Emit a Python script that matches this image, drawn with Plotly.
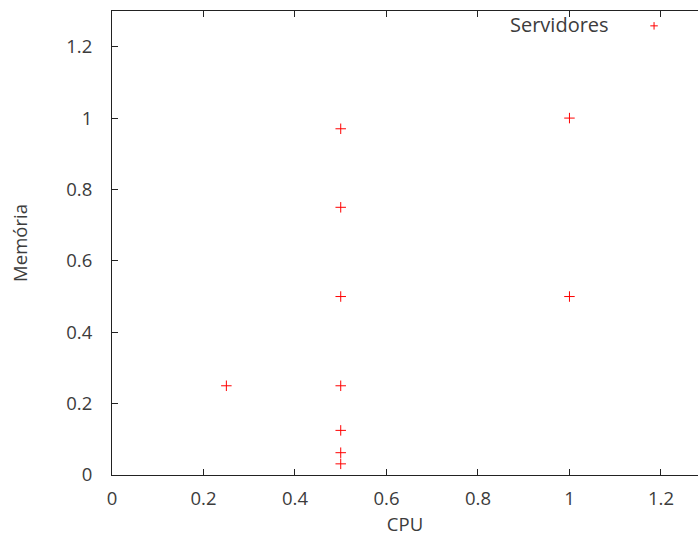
import plotly.graph_objects as go

cpu = [0.25, 0.5, 0.5, 0.5, 0.5, 0.5, 0.5, 0.5, 1.0, 1.0]
memoria = [0.25, 0.97, 0.75, 0.5, 0.25, 0.125, 0.0625, 0.03125, 1.0, 0.5]
series_name = "Servidores"
tick_vals = [0, 0.2, 0.4, 0.6, 0.8, 1, 1.2]
tick_text = ["0", "0.2", "0.4", "0.6", "0.8", "1", "1.2"]

font_family = "Open Sans, sans-serif"
text_color = "#3c3c3c"

fig = go.Figure()
fig.add_trace(go.Scatter(
    x=cpu, y=memoria, mode="markers", name=series_name, showlegend=False,
    marker=dict(symbol="cross-thin", size=7.5, color="rgba(0,0,0,0)",
                line=dict(color="#ff0000", width=1)),
))

axis_common = dict(
    showgrid=False, zeroline=False, showline=True, linecolor="#222222", linewidth=1,
    ticks="inside", ticklen=6, tickcolor="#222222", tickwidth=1,
    tickvals=tick_vals, ticktext=tick_text,
    tickfont=dict(family=font_family, size=18.5, color=text_color),
)

fig.update_xaxes(range=[0, 1.281], mirror="ticks", ticklabelstandoff=7,
                 title=dict(text="CPU", font=dict(family=font_family, size=18.5, color=text_color), standoff=11),
                 **axis_common)
fig.update_yaxes(range=[0, 1.3], mirror=False, ticklabelstandoff=15,
                 title=dict(text="Memória", font=dict(family=font_family, size=18.5, color=text_color), standoff=33),
                 **axis_common)

# legend drawn in gnuplot style: label then sample symbol
fig.add_annotation(xref="paper", yref="paper", x=0.851, y=0.970, xanchor="right", yanchor="middle",
                   text=series_name, showarrow=False,
                   font=dict(family=font_family, size=20, color=text_color))
lx, ly = 0.925, 0.968
fig.add_shape(type="line", xref="paper", yref="paper", xsizemode="pixel", ysizemode="pixel",
              xanchor=lx, yanchor=ly, x0=-3.75, x1=3.75, y0=0, y1=0,
              line=dict(color="#ff0000", width=1))
fig.add_shape(type="line", xref="paper", yref="paper", xsizemode="pixel", ysizemode="pixel",
              xanchor=lx, yanchor=ly, x0=0, x1=0, y0=-3.75, y1=3.75,
              line=dict(color="#ff0000", width=1))

fig.update_layout(
    width=698, height=536,
    margin=dict(l=112, r=0, t=11, b=61),
    plot_bgcolor="white", paper_bgcolor="white",
)

fig.write_html("out.html", config={"displayModeBar": False},
               post_script="document.body.style.margin='0';document.body.style.overflow='hidden';")
